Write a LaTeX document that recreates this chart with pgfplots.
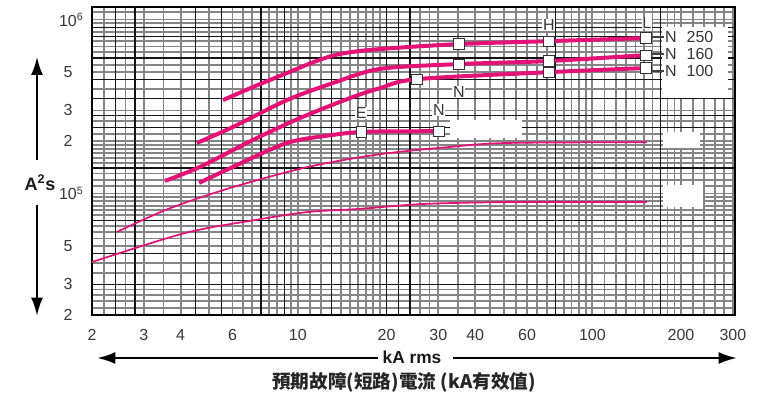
\documentclass[border=0pt]{standalone}
\usepackage{pgfplots}
\pgfplotsset{compat=1.18}
\usepackage{fontspec}
\setmainfont{Liberation Sans}
\newfontfamily\cjk{Noto Sans CJK TC}
\usetikzlibrary{arrows.meta}
\definecolor{curve}{RGB}{228,18,118}
\definecolor{txt}{RGB}{55,55,55}
\tikzset{lbl/.style={font=\fontsize{12}{14}\selectfont, text=txt, fill=white, inner sep=0.5pt}}
\begin{document}
\begin{tikzpicture}
\path[use as bounding box] (-69pt,-60.75pt) rectangle (501pt,236.25pt);
\begin{axis}[
  scale only axis, width=482.25pt, height=231pt,
  xmode=log, ymode=log,
  xmin=2, xmax=305, ymin=2e4, ymax=1.18e6,
  axis line style={black, line width=0.9pt},
  major tick length=0pt, minor tick length=0pt,
  xtick={2,3,4,6,10,20,30,40,60,100,200,300},
  xticklabels={2,3,4,6,10,20,30,40,60,100,200,300},
  ytick={2e4,3e4,5e4,1e5,2e5,3e5,5e5,1e6},
  yticklabels={2,3,5,10\rlap{\textsuperscript{5}},2,3,5,10\rlap{\textsuperscript{6}}},
  tick label style={font=\fontsize{12}{14}\selectfont, text=txt},
  xticklabel style={anchor=center, yshift=-15pt},
  yticklabel style={anchor=center, xshift=-18pt},
  grid=minor,
  minor xtick={2.2,2.6,3,3.5,4,5,6,6.5,7,8,8.5,9.5,10,11,12,14,15,16,17,18,19,26,28,30,35,40,45,50,55,60,65,70,80,85,90,95,100,110,120,130,140,150,160,180,190,200,220,240,260,280,300},
  minor ytick={2.2e4,2.4e4,2.6e4,2.8e4,3.5e4,4e4,5e4,5.5e4,6e4,6.5e4,7.5e4,8e4,8.5e4,9e4,9.5e4,1e5,1.1e5,1.2e5,1.3e5,1.5e5,1.6e5,1.7e5,1.8e5,1.9e5,2e5,2.2e5,2.6e5,3e5,4e5,5e5,5.5e5,6.5e5,7e5,7.5e5,8.5e5,9.5e5,1e6,1.1e6},
  minor grid style={black!48, line width=1.35pt},
  extra x ticks={2.4,2.8,4.5,5.5,7.5,9,13,20,22,24,75,170},
  extra y ticks={3e4,4.5e4,7e4,1.4e5,2.4e5,2.8e5,3.5e5,4.5e5,6e5,8e5,9e5},
  extra x tick labels={}, extra y tick labels={},
  extra tick style={grid=major, major grid style={black!92, line width=1pt}},
]
% thick curves
\addplot[curve, line width=3pt, smooth, tension=0.55] coordinates {(5.57,3.44e5)(7.04,4.09e5)(9.18,4.92e5)(11.6,5.78e5)(14.0,6.35e5)(19.0,6.76e5)(35.2,7.22e5)(71.2,7.51e5)(151.9,7.82e5)};
\addplot[curve, line width=3pt, smooth, tension=0.5] coordinates {(4.54,1.95e5)(6.02,2.41e5)(9.18,3.44e5)(13.15,4.31e5)(19.0,5.2e5)(35.2,5.54e5)(71.2,5.77e5)(151.9,6.24e5)};
\addplot[curve, line width=3pt, smooth, tension=0.5] coordinates {(3.54,1.18e5)(4.65,1.42e5)(7.04,2.03e5)(10.16,2.71e5)(15.0,3.53e5)(19.0,4.03e5)(25.4,4.54e5)(71.2,4.98e5)(151.9,5.26e5)};
\addplot[curve, line width=3pt, smooth, tension=0.5] coordinates {(4.62,1.15e5)(6.02,1.42e5)(9.18,1.95e5)(13.15,2.17e5)(16.4,2.26e5)(19.0,2.27e5)(30.1,2.28e5)};
% thin curves
\addplot[curve, line width=1.3pt, smooth, tension=0.5] coordinates {(2.43,6.0e4)(3.62,8.13e4)(5.88,1.074e5)(10.82,1.42e5)(19.0,1.68e5)(32.8,1.85e5)(51.3,1.95e5)(153,1.97e5)};
\addplot[curve, line width=1.3pt, smooth, tension=0.5] coordinates {(2.0,4.03e4)(4.14,5.92e4)(7.15,7.03e4)(10.82,7.82e4)(15.9,8.13e4)(26.6,8.69e4)(52.5,8.92e4)(153,8.92e4)};
% markers
\addplot[only marks, mark=square*, mark size=3.9pt, mark options={fill=white, draw=black!80, line width=0.6pt}] coordinates {(35.2,7.22e5)(71.2,7.51e5)(151.9,7.82e5)(35.2,5.54e5)(71.2,5.77e5)(151.9,6.24e5)(25.4,4.54e5)(71.2,4.98e5)(151.9,5.26e5)(16.4,2.26e5)(30.1,2.28e5)};
% point letters
\node[lbl] at (axis cs:16.4,2.9e5) {E};
\node[lbl] at (axis cs:30.1,3.01e5) {N};
\node[lbl] at (axis cs:35.2,3.83e5) {N};
\node[lbl] at (axis cs:71.2,9.28e5) {H};
\node[lbl] at (axis cs:153,9.53e5) {L};
\end{axis}
% white patches
\fill[white] (427.5pt,162.75pt) rectangle (477pt,216pt);
\fill[white] (268.5pt,132.75pt) rectangle (322.5pt,146.25pt);
\fill[white] (428.25pt,125.25pt) rectangle (456pt,137.25pt);
\fill[white] (428.25pt,81pt) rectangle (458.25pt,97.5pt);
% leader lines and right labels
\foreach \yy/\num in {208.5/250,195.75/160,183/100}{
  \draw[black!75, line width=0.8pt] (419pt,\yy pt) -- (429pt,\yy pt);
  \node[font=\fontsize{12}{14}\selectfont, text=txt] at (434.25pt,\yy pt) {N};
  \node[font=\fontsize{12}{14}\selectfont, text=txt] at (456pt,\yy pt) {\num};
}
% y arrows and label
\draw[line width=2.2pt, -{Latex[length=14pt,width=9pt]}] (-41.25pt,116.25pt) -- (-41.25pt,194pt);
\draw[line width=2.2pt, -{Latex[length=14pt,width=9pt]}] (-41.25pt,82.5pt) -- (-41.25pt,-1pt);
\node[font=\bfseries\fontsize{13.5}{16}\selectfont, text=black!90] at (-39pt,99pt) {A\textsuperscript{2}s};
% x arrows and labels
\draw[line width=2.2pt, -{Latex[length=14pt,width=9pt]}] (214.5pt,-32.25pt) -- (3.5pt,-32.25pt);
\draw[line width=2.2pt, -{Latex[length=14pt,width=9pt]}] (270.75pt,-32.25pt) -- (484pt,-32.25pt);
\node[font=\bfseries\fontsize{13}{15}\selectfont, text=black!90] at (240pt,-32pt) {kA rms};
\node[font=\cjk\bfseries\fontsize{14}{16}\selectfont, text=black!85] at (234pt,-50.25pt) {預期故障(短路)電流 (kA有效值)};
\end{tikzpicture}
\end{document}
